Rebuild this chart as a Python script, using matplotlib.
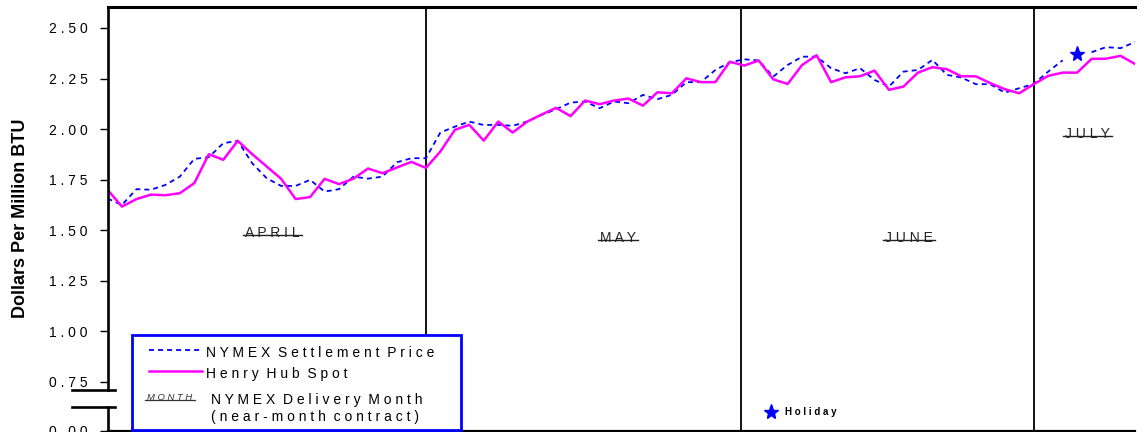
import numpy as np
import matplotlib.pyplot as plt
from matplotlib.lines import Line2D
from matplotlib.patches import Rectangle

plt.rcParams['font.family'] = ['Liberation Sans', 'DejaVu Sans']
plt.rcParams['lines.scale_dashes'] = False

# daily prices, $/MMBtu (April - early July)
spot = [1.70, 1.617, 1.654, 1.676, 1.673, 1.683, 1.733, 1.876, 1.848, 1.942,
        1.876, 1.815, 1.754, 1.654, 1.664, 1.754, 1.728, 1.755, 1.805, 1.782,
        1.810, 1.838, 1.808, 1.889, 1.996, 2.021, 1.943, 2.037, 1.983, 2.037,
        2.072, 2.105, 2.064, 2.141, 2.123, 2.141, 2.151, 2.116, 2.182, 2.177,
        2.251, 2.232, 2.232, 2.333, 2.314, 2.339, 2.246, 2.223, 2.317, 2.365,
        2.232, 2.256, 2.261, 2.289, 2.194, 2.210, 2.279, 2.306, 2.296, 2.261,
        2.261, 2.227, 2.197, 2.177, 2.222, 2.263, 2.279, 2.279, 2.347, 2.348,
        2.362, 2.322]
nymex = [1.657, 1.625, 1.703, 1.700, 1.724, 1.765, 1.853, 1.861, 1.930, 1.942,
         1.831, 1.757, 1.719, 1.719, 1.749, 1.691, 1.703, 1.765, 1.755, 1.765,
         1.836, 1.856, 1.856, 1.983, 2.012, 2.037, 2.020, 2.021, 2.016, 2.037,
         2.070, 2.098, 2.131, 2.136, 2.103, 2.136, 2.128, 2.169, 2.148, 2.169,
         2.232, 2.232, 2.292, 2.330, 2.345, 2.339, 2.259, 2.317, 2.358, 2.358,
         2.301, 2.276, 2.301, 2.243, 2.210, 2.284, 2.292, 2.342, 2.268, 2.255,
         2.222, 2.222, 2.180, 2.202, 2.223, 2.284, 2.340, np.nan, 2.380, 2.405,
         2.400, 2.430]
days = np.arange(len(spot))

months = ["APRIL", "MAY", "JUNE", "JULY"]
month_x = [11.4, 35.3, 55.4, 67.7]
month_y = [1.468, 1.442, 1.442, 1.956]
month_breaks = [22, 43.8, 64]
holiday_day = 67
holiday_price = 2.37

ytick_vals = [0.51, 0.75, 1.00, 1.25, 1.50, 1.75, 2.00, 2.25, 2.50]
ytick_labels = ["0.00", "0.75", "1.00", "1.25", "1.50", "1.75", "2.00", "2.25", "2.50"]

W, H = 1141, 432


def spaced(s):
    return "  ".join(" ".join(w) for w in s.split(" "))


def P(x, y):
    return (x / W, 1 - y / H)


fig = plt.figure(figsize=(W / 100, H / 100), dpi=100)
ax = fig.add_axes([107.5 / W, 1 - 430.5 / H, (1135 - 107.5) / W, (430.5 - 7.3) / H])

ax.plot(days, nymex, color="#0000ff", lw=1.3, dashes=(3.6, 2.9), zorder=3)
ax.plot(days, spot, color="#ff00ff", lw=1.8, zorder=4)
ax.plot([holiday_day], [holiday_price], marker="*", color="#0000ff", ms=11, ls="none", zorder=5)

for b in month_breaks:
    ax.axvline(b, color="black", lw=1.3, zorder=2)

ax.set_xlim(0, len(spot) - 1)
ax.set_ylim(0.51, 2.602)
ax.set_xticks([])
ax.set_yticks(ytick_vals)
ax.set_yticklabels([spaced(t) for t in ytick_labels], fontsize=10)
ax.tick_params(axis="y", direction="out", length=6, width=1, pad=8.3)

ax.spines["right"].set_visible(False)
ax.spines["left"].set_visible(False)
ax.spines["top"].set_linewidth(2.2)
ax.spines["bottom"].set_linewidth(1.6)

# left axis with break
ytr = ax.get_yaxis_transform()
ax.plot([0, 0], [0.710, 2.602], color="black", lw=1.9, transform=ytr, clip_on=False, zorder=6)
ax.plot([0, 0], [0.51, 0.626], color="black", lw=1.9, transform=ytr, clip_on=False, zorder=6)
for yb in [0.710, 0.626]:
    ax.plot([-0.0345, 0.0073], [yb, yb], color="black", lw=1.9, transform=ytr, clip_on=False, zorder=6)

fig.text(21 / W, 1 - 218 / H, "Dollars Per Million BTU", rotation=90, fontsize=13,
         fontweight="bold", ha="center", va="center")

month_texts = []
for m, mx, my in zip(months, month_x, month_y):
    t = ax.text(mx, my, spaced(m), fontsize=10, ha="center", va="baseline", color="#222222")
    month_texts.append(t)

# legend box
fig.add_artist(Rectangle(P(131.7, 430), (460.7 - 131.7) / W, (430 - 335) / H,
                         transform=fig.transFigure, facecolor="white", edgecolor="#0000ff",
                         lw=2, zorder=10))
fig.add_artist(Line2D([149 / W, 202 / W], [1 - 350 / H] * 2, color="#0000ff", lw=1.3,
                      dashes=(3.6, 2.9), zorder=11))
fig.add_artist(Line2D([149 / W, 202 / W], [1 - 370.5 / H] * 2, color="#ff00ff", lw=1.8, zorder=11))
fig.text(*P(206, 353), spaced("NYMEX Settlement Price"), fontsize=10, va="center", zorder=11)
fig.text(*P(206, 374), spaced("Henry Hub Spot"), fontsize=10, va="center", zorder=11)
fig.text(*P(170, 397), spaced("MONTH"), fontsize=6.8, style="italic", ha="center",
         va="center", color="#333333", zorder=11)
fig.add_artist(Line2D([145 / W, 195 / W], [1 - 399.5 / H] * 2, color="#333333", lw=0.9, zorder=12))
fig.text(*P(211, 400), spaced("NYMEX Delivery Month"), fontsize=10, va="center", zorder=11)
fig.text(*P(211, 417), spaced("(near-month contract)"), fontsize=10, va="center", zorder=11)

# holiday key
fig.add_artist(Line2D([771 / W], [1 - 411.5 / H], marker="*", color="#0000ff", ms=11, ls="none", zorder=11))
fig.text(*P(785, 412), spaced("Holiday"), fontsize=7, fontweight="bold", va="center", zorder=11)

# underline the month labels (line sits on the letters' baseline)
fig.canvas.draw()
inv = fig.transFigure.inverted()
for t in month_texts:
    bb = t.get_window_extent()
    (x0, y0), (x1, _) = inv.transform([(bb.x0 - 2, bb.y0 + 4.5), (bb.x1 + 2, bb.y0 + 4.5)])
    fig.add_artist(Line2D([x0, x1], [y0, y0], color="#222222", lw=1, zorder=3))

fig.savefig("out.png", dpi=100)
